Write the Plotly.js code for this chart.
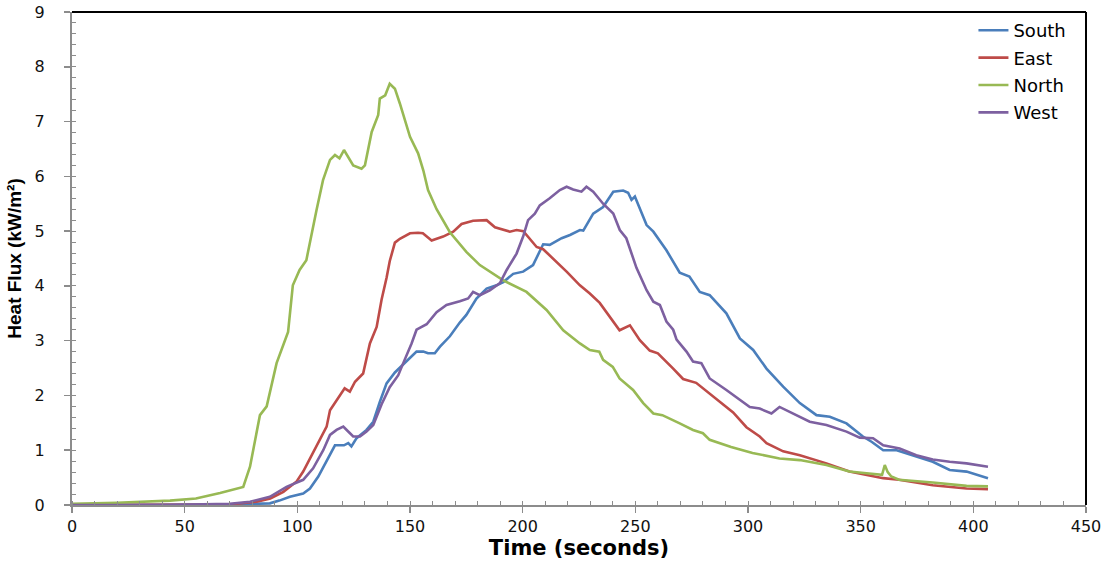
<!DOCTYPE html>
<html>
<head>
<meta charset="utf-8">
<script src="https://cdn.plot.ly/plotly-3.0.1.min.js"></script>
<style>html,body{margin:0;padding:0;background:#fff;}#chart{width:1110px;height:562px;}</style>
</head>
<body>
<div id="chart"></div>
<script>
// Series names and colours
const seriesNames = ["South", "East", "North", "West"];
const seriesColors = ["#4a7ebb", "#be4b48", "#98b954", "#7d60a0"];

// South
const southT = [0, 20, 50, 70, 80, 87.8, 92, 96.7, 102.6, 105.6, 109.3, 113, 116.7, 120.7, 122.6, 124, 126.3, 130.7, 133.7, 136.6, 139.6, 143.3, 146.6, 150, 152.9, 155.9, 158, 161, 163.3, 167.7, 172.1, 175, 179.5, 184, 188.4, 191.4, 195.8, 200.2, 204.6, 209.1, 212, 217.3, 221, 225.4, 226.9, 231.3, 235.7, 240.2, 244.6, 246.8, 248.3, 249.8, 255, 258, 263.8, 269.7, 274, 278.6, 283, 290.4, 296.4, 302.3, 308.2, 315.6, 323, 330.4, 336.3, 343.7, 351, 355, 360, 366, 374.7, 382, 389.5, 397, 406.5];
const southV = [0, 0, 0.01, 0.01, 0.02, 0.03, 0.08, 0.15, 0.21, 0.3, 0.52, 0.82, 1.09, 1.09, 1.13, 1.07, 1.22, 1.37, 1.52, 1.88, 2.22, 2.42, 2.55, 2.68, 2.8, 2.8, 2.77, 2.77, 2.89, 3.08, 3.33, 3.47, 3.77, 3.95, 4.01, 4.07, 4.22, 4.26, 4.38, 4.76, 4.75, 4.87, 4.93, 5.02, 5.01, 5.32, 5.44, 5.72, 5.74, 5.7, 5.57, 5.63, 5.11, 4.99, 4.65, 4.24, 4.17, 3.89, 3.83, 3.5, 3.04, 2.83, 2.49, 2.16, 1.86, 1.64, 1.61, 1.49, 1.25, 1.15, 1.0, 1.0, 0.88, 0.79, 0.64, 0.61, 0.49];

// East
const eastT = [0, 40, 70, 82, 88, 93.8, 99.7, 102.6, 106.3, 110, 113, 114.5, 117.4, 121, 123.3, 125.6, 129.2, 132.2, 135.2, 137.4, 139.6, 141, 143.3, 145.5, 150, 153.6, 155.7, 159.6, 164.7, 169.2, 172.9, 178, 184, 187.7, 194.3, 197.3, 200.3, 206.2, 209.1, 215, 219.5, 225.4, 229.8, 234.2, 238.7, 243, 247.6, 252, 256.4, 260, 266.8, 271.2, 277, 284.5, 289, 293.4, 299.3, 305.2, 308.2, 315.6, 323, 334.8, 345, 352.6, 360, 367, 382, 397, 406.5];
const eastV = [0, 0, 0.01, 0.06, 0.12, 0.24, 0.43, 0.61, 0.91, 1.19, 1.43, 1.73, 1.92, 2.13, 2.07, 2.25, 2.4, 2.95, 3.25, 3.75, 4.15, 4.45, 4.79, 4.86, 4.96, 4.97, 4.96, 4.83, 4.9, 4.99, 5.13, 5.19, 5.2, 5.07, 4.99, 5.02, 5.0, 4.71, 4.67, 4.44, 4.26, 4.01, 3.86, 3.69, 3.44, 3.19, 3.28, 3.01, 2.82, 2.77, 2.49, 2.3, 2.23, 1.98, 1.82, 1.69, 1.42, 1.25, 1.13, 0.98, 0.91, 0.76, 0.61, 0.55, 0.49, 0.46, 0.36, 0.3, 0.29];

// North
const northT = [0, 20, 43.5, 55, 65.7, 72, 76, 79, 81, 83.4, 86.4, 90.8, 95.9, 98, 101, 104, 108.5, 111.4, 114.5, 116.7, 118.7, 120.7, 124.8, 128.5, 130, 133, 135.9, 136.6, 139, 141, 143.3, 145.5, 150, 153.6, 155.9, 158, 161.8, 167.7, 175, 181, 191.4, 197.3, 201.7, 210.6, 218, 225.4, 229.8, 234, 235.7, 240, 243, 249, 253.5, 258, 262, 269.7, 275.6, 280, 283, 292.5, 302, 314, 323, 334.8, 345, 352.6, 359.5, 360.7, 362, 363.6, 367, 382, 389.6, 397, 406.5];
const northV = [0.02, 0.04, 0.08, 0.12, 0.22, 0.28, 0.33, 0.7, 1.15, 1.64, 1.8, 2.59, 3.16, 4.01, 4.29, 4.47, 5.38, 5.93, 6.3, 6.39, 6.33, 6.48, 6.2, 6.14, 6.2, 6.81, 7.12, 7.42, 7.48, 7.69, 7.6, 7.33, 6.72, 6.42, 6.11, 5.75, 5.4, 4.98, 4.62, 4.38, 4.1, 3.98, 3.89, 3.56, 3.19, 2.95, 2.83, 2.8, 2.65, 2.52, 2.31, 2.1, 1.86, 1.67, 1.64, 1.49, 1.37, 1.31, 1.19, 1.06, 0.95, 0.85, 0.82, 0.73, 0.61, 0.58, 0.55, 0.73, 0.6, 0.52, 0.46, 0.41, 0.38, 0.35, 0.34];

// West
const westT = [0, 40, 70, 79, 87.8, 95.2, 102.6, 107, 111.5, 114.5, 117.4, 120.4, 121.9, 124.8, 127.8, 130.7, 133.7, 137.4, 141, 144.8, 147, 150.7, 152.9, 157.4, 161.8, 166.2, 172.1, 175.8, 178, 181, 185.4, 189.9, 192.9, 197.3, 200.2, 202.4, 205.4, 207.6, 212, 216.5, 219.5, 222.4, 226.1, 228.3, 231.3, 235.7, 240.2, 243.1, 246, 250.5, 255, 258, 260.9, 263.8, 266.8, 268.3, 272.7, 275.6, 279.3, 283, 290.4, 300.8, 305.2, 310.4, 314, 320, 327.4, 334.8, 343.7, 349.6, 355.5, 360, 367.3, 374.7, 382, 389.5, 397, 406.5];
const westV = [0, 0, 0.02, 0.06, 0.15, 0.33, 0.46, 0.67, 1.0, 1.28, 1.37, 1.43, 1.37, 1.25, 1.25, 1.34, 1.46, 1.84, 2.15, 2.37, 2.59, 2.95, 3.2, 3.3, 3.52, 3.65, 3.72, 3.77, 3.89, 3.83, 3.92, 4.05, 4.29, 4.59, 4.9, 5.2, 5.32, 5.47, 5.6, 5.75, 5.81, 5.76, 5.72, 5.81, 5.72, 5.5, 5.32, 5.02, 4.87, 4.33, 3.92, 3.71, 3.65, 3.35, 3.2, 3.02, 2.8, 2.62, 2.59, 2.31, 2.1, 1.79, 1.76, 1.67, 1.79, 1.67, 1.52, 1.46, 1.34, 1.23, 1.22, 1.09, 1.03, 0.91, 0.83, 0.79, 0.76, 0.7];

// Axis ticks
const xTicks = [0, 50, 100, 150, 200, 250, 300, 350, 400, 450];
const yTicks = [0, 1, 2, 3, 4, 5, 6, 7, 8, 9];

const xs = [southT, eastT, northT, westT];
const ys = [southV, eastV, northV, westV];

const traces = seriesNames.map((n, i) => ({
  type: 'scatter', mode: 'lines', name: n, x: xs[i], y: ys[i],
  legendgroup: n,
  line: {color: seriesColors[i], width: 2.6}
}));

const axisGray = '#8c8c8c';
const layout = {
  width: 1110, height: 562,
  margin: {l: 72, r: 24, t: 12, b: 57},
  paper_bgcolor: '#fff', plot_bgcolor: '#fff',
  showlegend: true,
  legend: {x: 0.889, y: 1.0, xanchor: 'left', yanchor: 'top', bgcolor: 'rgba(0,0,0,0)',
           font: {family: 'DejaVu Sans', size: 18, color: '#000'}, tracegroupgap: 1},
  xaxis: {
    range: [0, 450], tickvals: xTicks, ticktext: xTicks.map(String),
    showline: true, linecolor: axisGray, linewidth: 2,
    ticks: 'outside', ticklen: 6, tickcolor: axisGray, tickwidth: 1.5,
    minor: {dtick: 10, tick0: 0, ticks: 'inside', ticklen: 4, tickcolor: axisGray, tickwidth: 1},
    showgrid: false, zeroline: false,
    tickfont: {family: 'DejaVu Sans', size: 16, color: '#111'},
    title: {text: 'Time (seconds)', font: {family: 'DejaVu Sans', size: 21, weight: 'bold', color: '#000'}, standoff: 5}
  },
  yaxis: {
    range: [0, 9], tickvals: yTicks, ticktext: yTicks.map(String),
    showline: true, linecolor: axisGray, linewidth: 2,
    ticks: 'outside', ticklen: 6, tickcolor: axisGray, tickwidth: 1.5,
    minor: {dtick: 0.2, tick0: 0, ticks: 'inside', ticklen: 4, tickcolor: axisGray, tickwidth: 1},
    showgrid: false, zeroline: false,
    tickfont: {family: 'DejaVu Sans', size: 16, color: '#111'},
    ticklabelstandoff: 16,
    title: {text: 'Heat Flux (kW/m²)', font: {family: 'Liberation Sans', size: 19, weight: 'bold', color: '#000'}, standoff: 8}
  },
  shapes: [
    {type: 'line', xref: 'paper', yref: 'paper', x0: 0, x1: 1, y0: 1, y1: 1, line: {color: '#000', width: 2}},
    {type: 'line', xref: 'paper', yref: 'paper', x0: 1, x1: 1, y0: 0, y1: 1, line: {color: '#000', width: 2}}
  ]
};

Plotly.newPlot('chart', traces, layout, {staticPlot: true, displayModeBar: false});
</script>
</body>
</html>
